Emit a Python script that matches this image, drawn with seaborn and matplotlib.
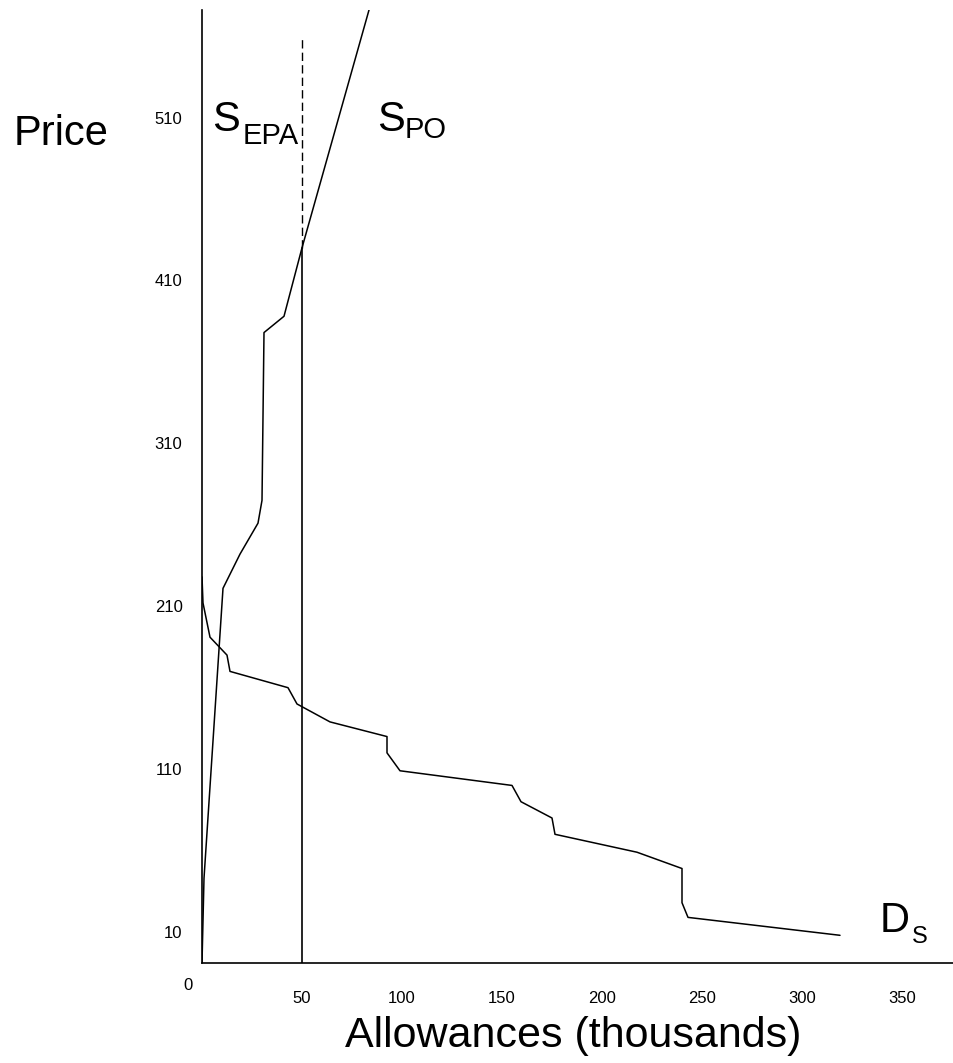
import seaborn as sns
import pandas as pd
import matplotlib.pyplot as plt

# axis ranges: allowances (thousands) and price
X_MAX = 376
Y_MIN, Y_MAX = -9, 576

# private offer supply curve S_PO
spo_x = [0, 1, 10.5, 19, 28, 30, 31, 41, 50, 83.5]
spo_price = [-9, 43, 221, 242, 261, 275, 378, 388, 430, 576]

# demand curve D_S
ds_x = [0, 0.5, 4, 12.5, 14, 43, 47.5, 64, 92.5, 92.5, 99, 155, 159.5,
        175, 176.5, 217.5, 240, 240, 243, 319]
ds_price = [228, 212, 191, 180, 170, 160, 150, 139, 130, 120, 109, 100, 90,
            80, 70, 59, 49, 28, 19, 8]

# EPA supply: fixed quantity of allowances
epa_x = 50
epa_solid_top = 430
epa_dash_top = 560

x_ticks = [50, 100, 150, 200, 250, 300, 350]
y_ticks = [10, 110, 210, 310, 410, 510]


def main():
    sns.set_theme(style="white")
    plt.rcParams['font.family'] = ['Liberation Sans', 'DejaVu Sans']
    plt.rcParams['text.color'] = 'black'

    fig = plt.figure(figsize=(9.54, 10.63), dpi=100)
    ax = fig.add_axes([202 / 954, 100 / 1063, 752 / 954, 953 / 1063])

    spo = pd.DataFrame({'x': spo_x, 'price': spo_price})
    ds = pd.DataFrame({'x': ds_x, 'price': ds_price})

    sns.lineplot(data=spo, x='x', y='price', sort=False, estimator=None,
                 color='black', lw=1.1, ax=ax)
    sns.lineplot(data=ds, x='x', y='price', sort=False, estimator=None,
                 color='black', lw=1.1, ax=ax)

    # EPA supply: solid up to S_PO crossing, dashed above
    ax.plot([epa_x, epa_x], [Y_MIN, epa_solid_top], color='black', lw=1.2)
    ax.plot([epa_x, epa_x], [epa_solid_top, epa_dash_top], color='black',
            lw=1.0, dashes=(6, 3))

    ax.set_xlim(0, X_MAX)
    ax.set_ylim(Y_MIN, Y_MAX)
    ax.set_xticks(x_ticks)
    ax.set_yticks(y_ticks)
    ax.tick_params(axis='both', length=0, labelsize=12, colors='black')
    ax.tick_params(axis='x', pad=20)
    ax.tick_params(axis='y', pad=14)

    for side in ['top', 'right']:
        ax.spines[side].set_visible(False)
    for side in ['left', 'bottom']:
        ax.spines[side].set_color('black')
        ax.spines[side].set_linewidth(1.2)

    # origin label sits apart from the other ticks
    ax.annotate('0', xy=(0, Y_MIN), xytext=(-14, -22),
                textcoords='offset pixels', ha='center', va='center',
                fontsize=12, color='black')

    ax.set_xlabel('Allowances (thousands)', fontsize=31, color='black',
                  va='baseline')
    ax.xaxis.set_label_coords(0.493, -0.088)
    ax.set_ylabel('Price', fontsize=30, color='black', rotation=0,
                  ha='left', va='baseline')
    ax.yaxis.set_label_coords(-0.251, 0.858)

    # curve labels
    ax.text(5, 502, 'S', fontsize=30, va='baseline', ha='left', color='black')
    ax.text(20.5, 494, 'EPA', fontsize=21, va='baseline', ha='left', color='black')
    ax.text(87.5, 502, 'S', fontsize=30, va='baseline', ha='left', color='black')
    ax.text(101.5, 497.5, 'PO', fontsize=21, va='baseline', ha='left', color='black')
    ax.text(339, 10, 'D', fontsize=30, va='baseline', ha='left', color='black')
    ax.text(355, 3.3, 'S', fontsize=17, va='baseline', ha='left', color='black')

    fig.savefig('out.png', dpi=100, facecolor='white')
    plt.close(fig)


if __name__ == "__main__":
    main()
